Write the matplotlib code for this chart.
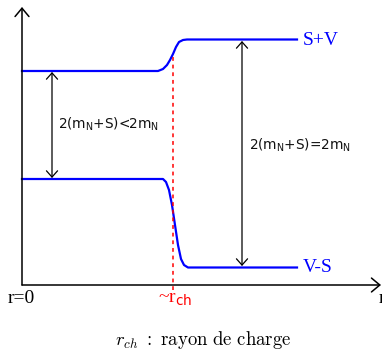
import matplotlib
matplotlib.use("Agg")
import matplotlib.pyplot as plt

# --- data (schematic units: r along x, energy along y) ---
r_upper = [0, 136, 141, 145, 148, 151, 154, 157, 161, 165, 275]
v_upper = [214, 214, 216, 220, 225, 231, 238, 243, 245, 245.5, 245.5]
r_lower = [0, 141, 144, 147, 150, 153, 156, 159, 162, 166, 275]
v_lower = [106, 106, 103, 95, 80, 60, 40, 26, 20, 17.5, 17.5]
r_ch = 151
level_left = (214, 106)
level_right = (245.5, 17.5)
label_upper = "S+V"
label_lower = "V-S"
gap_left = r"2(m$_\mathrm{N}$+S)<2m$_\mathrm{N}$"
gap_right = r"2(m$_\mathrm{N}$+S)=2m$_\mathrm{N}$"

plt.rcParams['mathtext.fontset'] = 'custom'
plt.rcParams['mathtext.rm'] = 'DejaVu Sans'
plt.rcParams['mathtext.it'] = 'DejaVu Sans:italic'

fig = plt.figure(figsize=(3.82, 3.5), dpi=100)
ax = fig.add_axes([0, 0, 1, 1])
ax.set_xlim(-22, 360)
ax.set_ylim(-65, 285)
ax.axis('off')

# axes arrows
ax.annotate('', xy=(0, 278), xytext=(0, 0),
            arrowprops=dict(arrowstyle='->,head_length=0.6,head_width=0.5', lw=1.1, color='black', shrinkA=0, shrinkB=0))
ax.annotate('', xy=(359, 0), xytext=(0, 0),
            arrowprops=dict(arrowstyle='->,head_length=0.6,head_width=0.5', lw=1.1, color='black', shrinkA=0, shrinkB=0))

# curves
ax.plot(r_upper, v_upper, color='#0000ff', lw=1.6, solid_joinstyle='round')
ax.plot(r_lower, v_lower, color='#0000ff', lw=1.6, solid_joinstyle='round')

# r_ch dashed
ax.plot([r_ch, r_ch], [-5, 229], color='#ff0000', lw=1.1, ls=(0, (2.5, 2.5)))

# double arrows
ax.annotate('', xy=(30, level_left[0] - 1), xytext=(30, level_left[1] + 1),
            arrowprops=dict(arrowstyle='<->,head_length=0.45,head_width=0.4', lw=0.9, color='black', shrinkA=0, shrinkB=0))
ax.annotate('', xy=(220, level_right[0] - 1.5), xytext=(220, level_right[1] + 1.5),
            arrowprops=dict(arrowstyle='<->,head_length=0.45,head_width=0.4', lw=0.9, color='black', shrinkA=0, shrinkB=0))

# texts
ax.text(36, 156.7, gap_left, fontsize=9.8, family='DejaVu Sans', va='baseline', ha='left', color='#111111')
ax.text(227, 135, gap_right, fontsize=9.8, family='DejaVu Sans', va='baseline', ha='left', color='#111111')
ax.text(281, 240, label_upper, fontsize=14, family='Liberation Serif', color='#0000ff', va='baseline')
ax.text(281, 12.7, label_lower, fontsize=14, family='Liberation Serif', color='#0000ff', va='baseline')
ax.text(-14, -18, "r=0", fontsize=14, family='Liberation Serif', color='black', va='baseline')
ax.text(136, -17.7, r"~r$_\mathrm{ch}$", fontsize=14, family='Liberation Serif', color='#ff0000', va='baseline')
ax.text(356.5, -18, "r", fontsize=14, family='Liberation Serif', color='black', va='baseline')
ax.text(181, -60, r"$r_{ch}\ :\ \mathrm{rayon\ de\ charge}$", fontsize=13.5, math_fontfamily='cm',
        ha='center', va='baseline', color='black')

fig.savefig('out.png', dpi=100)
